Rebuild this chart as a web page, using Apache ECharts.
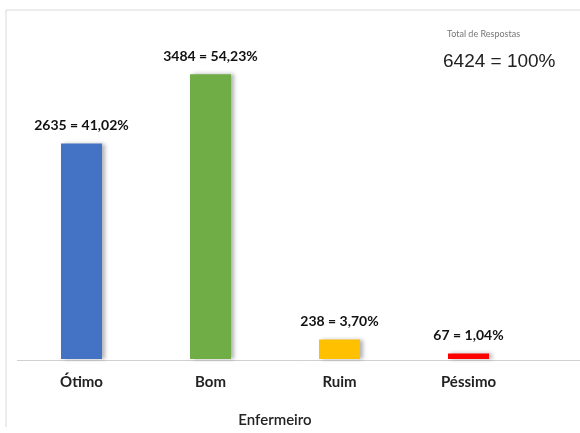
<!DOCTYPE html>
<html>
<head>
<meta charset="utf-8">
<script src="https://cdn.jsdelivr.net/npm/echarts@6/dist/echarts.min.js"></script>
<style>
  html, body { margin: 0; padding: 0; background: #fff; }
  #chart { width: 580px; height: 433px; }
</style>
</head>
<body>
<div id="chart"></div>
<script>
const categories = ["Ótimo", "Bom", "Ruim", "Péssimo"];
const counts = [2635, 3484, 238, 67];
const percents = ["41,02%", "54,23%", "3,70%", "1,04%"];
const barColors = ["#4472C4", "#70AD47", "#FFC000", "#FF0000"];
const totalLabel = "6424 = 100%";

const chart = echarts.init(document.getElementById("chart"));

chart.setOption({
  animation: false,
  grid: { left: 17, right: 47, top: 32, bottom: 73 },
  xAxis: {
    type: "category",
    data: categories,
    name: "Enfermeiro",
    nameLocation: "middle",
    nameGap: 54,
    nameTextStyle: { fontFamily: "Lato", fontSize: 15, fontWeight: 600, color: "#222" },
    axisLine: { show: false },
    axisTick: { show: false },
    axisLabel: {
      fontFamily: "Lato",
      fontSize: 15,
      fontWeight: "bold",
      color: "#222",
      margin: 16
    }
  },
  yAxis: {
    type: "value",
    min: 0,
    max: 4000,
    show: false
  },
  series: [
    {
      type: "bar",
      barWidth: 41,
      data: counts.map((v, i) => ({
        value: v,
        itemStyle: { color: barColors[i] }
      })),
      itemStyle: {
        shadowColor: "rgba(0,0,0,0.3)",
        shadowBlur: 4,
        shadowOffsetX: 3
      },
      label: {
        show: true,
        position: "top",
        distance: 11,
        fontFamily: "Lato",
        fontWeight: "bold",
        fontSize: 14,
        color: "#111",
        formatter: (p) => counts[p.dataIndex] + " = " + percents[p.dataIndex]
      }
    }
  ],
  graphic: [
    // outer frame (left and top edges)
    {
      type: "polyline",
      shape: { points: [[6, 427], [6, 10], [580, 10]] },
      style: { stroke: "#d9d9d9", lineWidth: 1, fill: null }
    },
    // baseline
    {
      type: "line",
      shape: { x1: 17, y1: 360.5, x2: 580, y2: 360.5 },
      style: { stroke: "#d0d0d0", lineWidth: 1 },
      z: 1
    },
    {
      type: "text",
      left: 447,
      top: 30,
      style: {
        text: "Total de Respostas",
        fontFamily: "Lato",
        fontSize: 9,
        fill: "#777"
      }
    },
    {
      type: "text",
      left: 443,
      top: 52,
      style: {
        text: totalLabel,
        fontFamily: "Liberation Sans",
        fontSize: 19,
        fill: "#222"
      }
    }
  ]
});
</script>
</body>
</html>
